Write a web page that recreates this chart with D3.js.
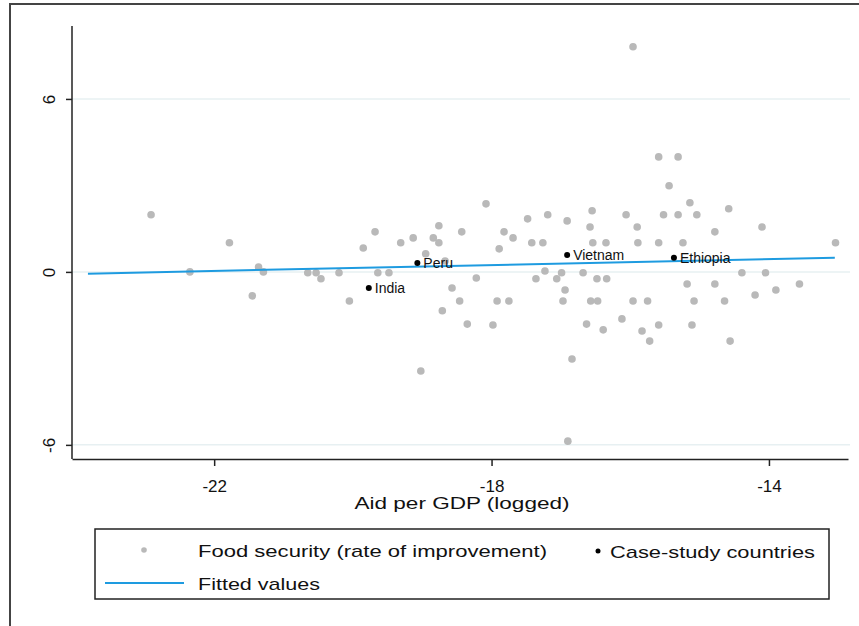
<!DOCTYPE html>
<html>
<head>
<meta charset="utf-8">
<script src="https://cdn.jsdelivr.net/npm/d3@7"></script>
<style>
  body { margin: 0; background: #fff; }
  text { font-family: "Liberation Sans", Arial, sans-serif; }
</style>
</head>
<body>
<div id="chart"></div>
<script>
/**
 * DATA
 * */
// food security (rate of improvement) vs aid per GDP (logged)
const aidX = [
  -22.91, -21.78, -22.35, -21.45, -21.36, -21.29, -20.65, -20.53, -20.46, -20.20,
  -20.05, -19.85, -19.68, -19.64, -19.48, -19.31, -19.13, -19.02, -18.95, -18.84,
  -18.76, -18.76, -18.71, -18.67, -18.57, -18.46, -18.43, -18.35, -18.22, -18.08,
  -17.98, -17.92, -17.89, -17.82, -17.75, -17.69, -17.48, -17.42, -17.36, -17.26,
  -17.23, -17.19, -17.06, -16.99, -16.97, -16.94, -16.91, -16.90, -16.84, -16.68,
  -16.63, -16.58, -16.55, -16.54, -16.57, -16.47, -16.48, -16.39, -16.35, -16.34,
  -16.12, -16.06, -15.96, -15.96, -15.90, -15.89, -15.83, -15.75, -15.72, -15.59,
  -15.59, -15.59, -15.52, -15.44, -15.31, -15.31, -15.24, -15.18, -15.14, -15.11,
  -15.08, -15.04, -14.78, -14.78, -14.64, -14.58, -14.56, -14.39, -14.20, -14.10,
  -14.05, -13.90, -13.56, -13.04
];
const foodY = [
   1.98,  1.01,  0.00, -0.83,  0.17,  0.00, -0.03, -0.03, -0.24, -0.03,
  -1.01,  0.83,  1.39, -0.03, -0.03,  1.01,  1.18, -3.44,  0.63,  1.18,
   1.60,  1.01, -1.35,  0.38, -0.56, -1.01,  1.39, -1.81, -0.21,  2.36,
  -1.84, -1.01,  0.80,  1.39, -1.01,  1.18,  1.84,  1.01, -0.24,  1.01,
   0.03,  1.98, -0.24, -0.03, -1.01, -0.63,  1.77, -5.87, -3.02, -0.03,
  -1.81,  1.56,  2.12,  1.01, -1.01, -1.01, -0.24, -2.01,  1.01, -0.24,
  -1.63,  1.98, -1.01,  7.81,  1.56,  1.01, -2.05, -1.01, -2.40,  3.99,
   1.01, -1.84,  1.98,  2.99,  3.99,  1.98,  1.01, -0.42,  2.40, -1.84,
  -1.01,  1.98,  1.39, -0.42, -1.01,  2.19, -2.40, -0.03, -0.80,  1.56,
  -0.03, -0.63, -0.42,  1.01
];

const caseNames = ["India", "Peru", "Vietnam", "Ethiopia"];
const caseX = [-19.77, -19.07, -16.91, -15.37];
const caseY = [-0.56, 0.31, 0.59, 0.49];

// ends of the fitted line
const fitX = [-23.82, -13.05];
const fitY = [-0.06, 0.49];

const xTicks = [-22, -18, -14];
const yTicks = [-6, 0, 6];

const legendLabels = ["Food security (rate of improvement)", "Case-study countries", "Fitted values"];

/**
 * CONSTANTS
 * */
const width = 859, height = 626;
const plot = { left: 72, right: 848, top: 26, bottom: 459 };

const svg = d3.select("#chart").append("svg")
  .attr("width", width)
  .attr("height", height);

// outer frame
svg.append("rect")
  .attr("x", 10).attr("y", 4)
  .attr("width", 900).attr("height", 700)
  .attr("fill", "none")
  .attr("stroke", "#444")
  .attr("stroke-width", 2);

const x = d3.scaleLinear().domain([-24.05, -12.86]).range([plot.left, plot.right]);
const y = d3.scaleLinear().domain([-6.49, 8.53]).range([plot.bottom, plot.top]);

// gridlines
svg.selectAll("line.grid")
  .data(yTicks)
  .join("line")
  .attr("class", "grid")
  .attr("x1", plot.left).attr("x2", plot.right + 2)
  .attr("y1", d => y(d)).attr("y2", d => y(d))
  .attr("stroke", "#e7f0f2")
  .attr("stroke-width", 1.5);

// axes (plain hyphen for the minus sign, like the original)
const xAxis = svg.append("g")
  .attr("transform", `translate(0,${plot.bottom})`)
  .call(d3.axisBottom(x).tickValues(xTicks).tickSize(7).tickSizeOuter(0).tickFormat(d => String(d)));
xAxis.select(".domain").attr("stroke", "#222").attr("stroke-width", 1.5);
xAxis.selectAll(".tick line").attr("stroke", "#222").attr("stroke-width", 1.5);
xAxis.selectAll(".tick text")
  .attr("y", 33).attr("dy", null)
  .attr("fill", "#111")
  .style("font-size", "17px");

const yAxis = svg.append("g")
  .attr("transform", `translate(${plot.left},0)`)
  .call(d3.axisLeft(y).tickValues(yTicks).tickSize(6).tickSizeOuter(0).tickFormat(d => String(d)));
yAxis.select(".domain").attr("stroke", "#222").attr("stroke-width", 1.5)
  .attr("d", `M0,${plot.top}V${plot.bottom}`);
yAxis.selectAll(".tick line").attr("stroke", "#222").attr("stroke-width", 1.5);
yAxis.selectAll(".tick text")
  .attr("x", null).attr("dy", null)
  .attr("transform", "translate(-21,0) rotate(-90)")
  .attr("text-anchor", "middle")
  .attr("dominant-baseline", "middle")
  .attr("fill", "#111")
  .style("font-size", "17px");

// x axis title
svg.append("text")
  .attr("x", (plot.left + plot.right) / 2 + 2)
  .attr("y", 509)
  .attr("text-anchor", "middle")
  .attr("textLength", 215)
  .attr("lengthAdjust", "spacingAndGlyphs")
  .style("font-size", "17px")
  .attr("fill", "#111")
  .text("Aid per GDP (logged)");

// scatter points
const points = aidX.map((d, i) => ({ x: d, y: foodY[i] }));
svg.selectAll("circle.food")
  .data(points)
  .join("circle")
  .attr("class", "food")
  .attr("cx", d => x(d.x))
  .attr("cy", d => y(d.y))
  .attr("r", 3.8)
  .attr("fill", "#b9b9b9");

// fitted line
const fit = fitX.map((d, i) => [d, fitY[i]]);
svg.append("path")
  .datum(fit)
  .attr("d", d3.line().x(d => x(d[0])).y(d => y(d[1])))
  .attr("stroke", "#1e9be0")
  .attr("stroke-width", 2)
  .attr("fill", "none");

// case-study countries
const cases = caseNames.map((n, i) => ({ name: n, x: caseX[i], y: caseY[i] }));
svg.selectAll("circle.case")
  .data(cases)
  .join("circle")
  .attr("class", "case")
  .attr("cx", d => x(d.x))
  .attr("cy", d => y(d.y))
  .attr("r", 3)
  .attr("fill", "#000");

svg.selectAll("text.case")
  .data(cases)
  .join("text")
  .attr("class", "case")
  .attr("x", d => x(d.x) + 6)
  .attr("y", d => y(d.y) + 5)
  .style("font-size", "14px")
  .attr("fill", "#111")
  .text(d => d.name);

// legend
const legend = svg.append("g");
legend.append("rect")
  .attr("x", 95).attr("y", 529)
  .attr("width", 734).attr("height", 70)
  .attr("fill", "#fff")
  .attr("stroke", "#222")
  .attr("stroke-width", 1.5);

legend.append("circle")
  .attr("cx", 144).attr("cy", 550).attr("r", 2.8).attr("fill", "#b9b9b9");
legend.append("circle")
  .attr("cx", 598).attr("cy", 551).attr("r", 2.5).attr("fill", "#000");
legend.append("line")
  .attr("x1", 105).attr("x2", 184).attr("y1", 583).attr("y2", 583)
  .attr("stroke", "#1e9be0").attr("stroke-width", 2);

const legendPos = [[198, 557, 349], [610, 558, 205], [198, 590, 122]];
legend.selectAll("text")
  .data(legendLabels)
  .join("text")
  .attr("x", (d, i) => legendPos[i][0])
  .attr("y", (d, i) => legendPos[i][1])
  .attr("textLength", (d, i) => legendPos[i][2])
  .attr("lengthAdjust", "spacingAndGlyphs")
  .style("font-size", "17px")
  .attr("fill", "#111")
  .text(d => d);
</script>
</body>
</html>
